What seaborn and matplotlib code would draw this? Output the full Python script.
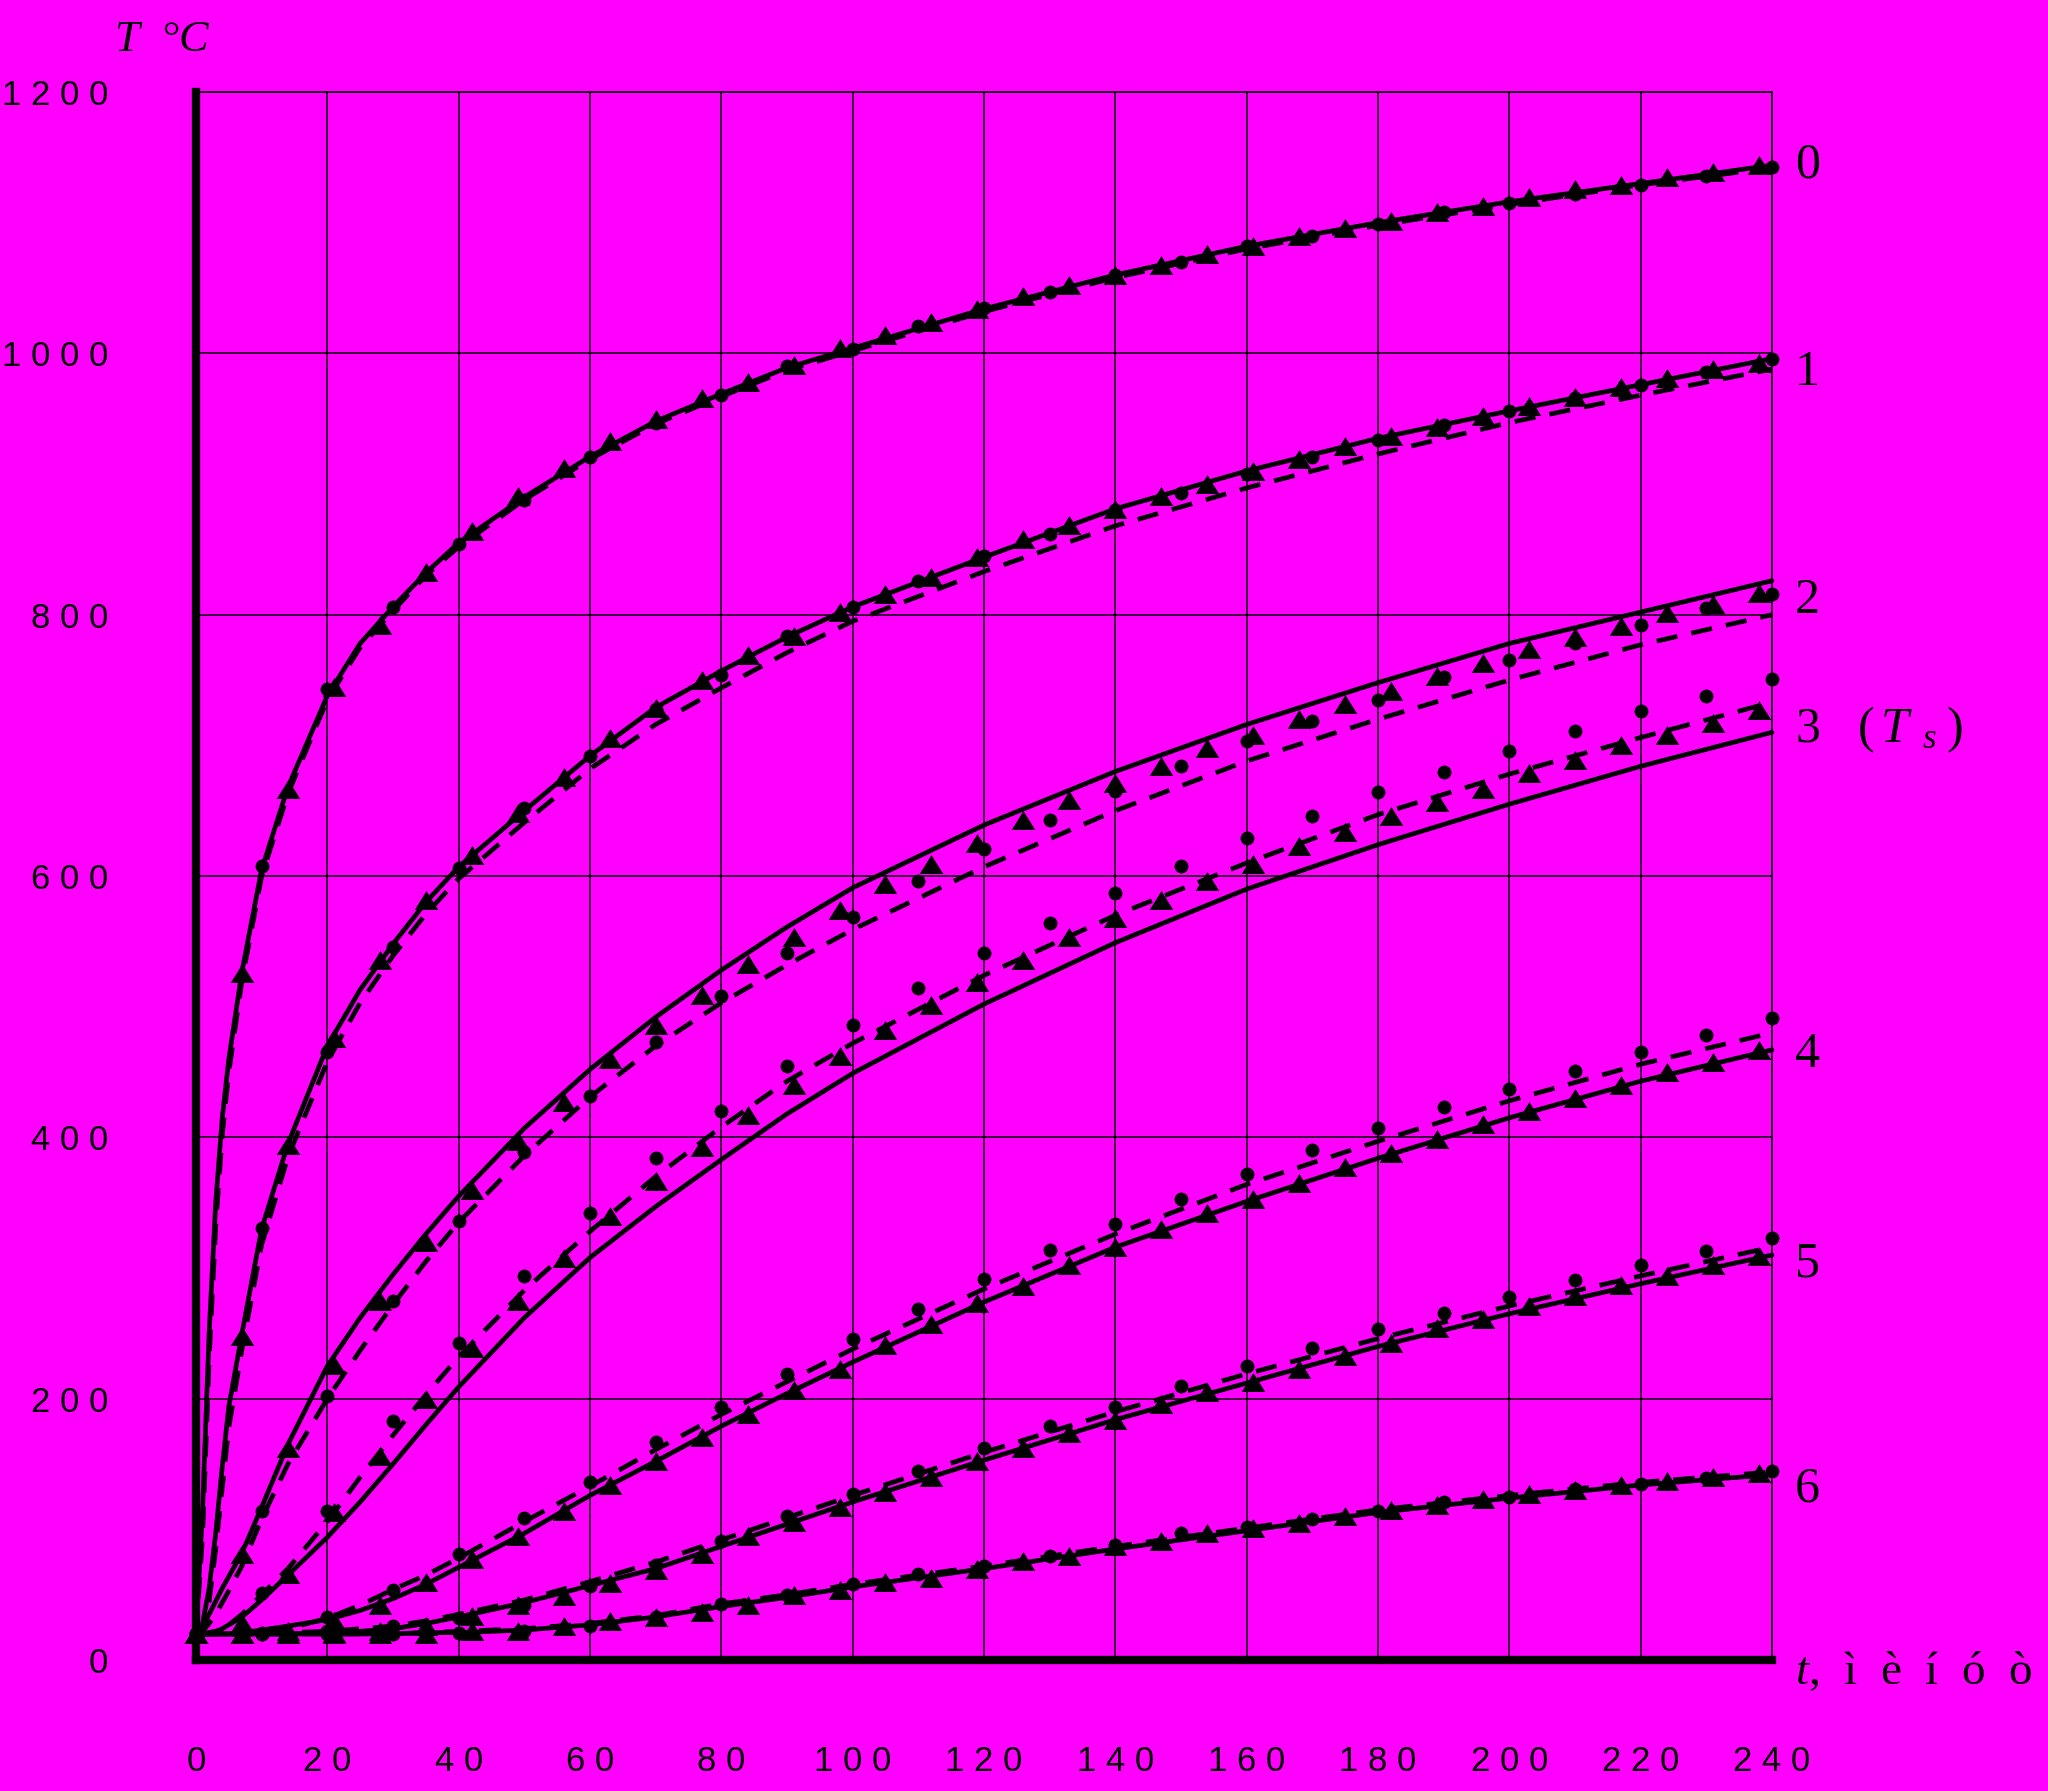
import numpy as np
import matplotlib
matplotlib.use("Agg")
import matplotlib.pyplot as plt
import seaborn as sns
from matplotlib import font_manager

# =========================================================
# 1. 데이터
# =========================================================
# 선(실선/점선)을 그릴 시간 격자, 분
T_LINE = [0, 1, 2, 3, 4, 5, 7, 10, 14, 20, 25, 30, 35, 40, 50, 60, 70, 80, 90,
          100, 120, 140, 160, 180, 200, 220, 240]
# 원형 마커는 10분마다, 삼각형 마커는 7분마다
T_DOT = list(range(0, 241, 10))
T_TRI = list(range(0, 239, 7))

solid_0 = [20, 115, 250, 350, 415, 460, 527, 605, 668, 738, 778, 806, 832, 855, 890,
           921, 948, 969, 989, 1004, 1034, 1060, 1082, 1100, 1116, 1130, 1144]
dash_0 = [20, 95, 230, 332, 402, 450, 520, 600, 663, 735, 775, 803, 830, 852, 888,
          919, 946, 967, 987, 1002, 1032, 1058, 1080, 1098, 1114, 1129, 1142]
solid_1 = [20, 28, 55, 97, 148, 194, 250, 330, 395, 470, 513, 548, 580, 607, 650,
           692, 729, 757, 783, 806, 844, 881, 910, 935, 956, 976, 996]
dash_1 = [20, 24, 45, 85, 132, 178, 238, 318, 385, 458, 503, 539, 571, 598, 641,
          682, 716, 744, 771, 795, 833, 868, 897, 923, 947, 968, 988]
solid_2 = [20, 26, 35, 45, 55, 64, 82, 117, 165, 225, 262, 295, 326, 355, 407,
           452, 492, 528, 561, 591, 639, 680, 716, 748, 778, 802, 826]
dash_2 = [20, 22, 28, 35, 44, 53, 72, 108, 150, 200, 237, 272, 305, 335, 386,
          431, 470, 503, 532, 559, 607, 650, 688, 720, 750, 777, 800]
solid_3 = [20, 20, 21, 22, 24, 27, 33, 46, 65, 94, 121, 150, 180, 209, 262,
           308, 347, 383, 418, 449, 502, 549, 590, 624, 655, 684, 710]
dash_3 = [20, 20, 21, 22, 24, 27, 35, 50, 70, 106, 140, 172, 203, 232, 283,
          328, 370, 408, 443, 472, 524, 570, 610, 647, 678, 706, 733]
solid_4 = [20, 20, 20, 20, 20, 20, 21, 23, 26, 31, 38, 47, 58, 71, 97,
           126, 152, 179, 204, 228, 274, 316, 351, 384, 415, 443, 467]
dash_4 = [20, 20, 20, 20, 20, 20, 20, 21, 24, 32, 42, 54, 65, 78, 106,
          133, 161, 188, 213, 238, 284, 326, 364, 397, 428, 456, 480]
solid_5 = [20, 20, 20, 20, 20, 20, 20, 20, 20, 21, 22, 24, 28, 33, 44,
           57, 70, 87, 104, 121, 153, 184, 212, 240, 265, 288, 310]
dash_5 = [20, 20, 20, 20, 20, 20, 20, 20, 21, 22, 24, 26, 30, 35, 46,
          60, 75, 92, 109, 126, 159, 190, 219, 246, 271, 294, 316]
solid_6 = [20, 20, 20, 20, 20, 20, 20, 20, 20, 20, 20, 20, 21, 21, 23,
           27, 33, 41, 48, 56, 70, 85, 99, 113, 124, 134, 142]
dash_6 = [20, 20, 20, 20, 20, 20, 20, 20, 20, 20, 20, 20, 21, 22, 24,
          28, 34, 43, 50, 58, 72, 87, 101, 115, 126, 136, 144]

dot_0 = [20, 608, 743, 806, 854, 888, 921, 947, 968, 990, 1003, 1021, 1035, 1047,
         1060, 1070, 1082, 1090, 1099, 1108, 1115, 1122, 1129, 1136, 1143]
dot_1 = [20, 331, 465, 546, 606, 652, 692, 728, 754, 784, 806, 826, 845, 862,
         880, 893, 908, 921, 934, 945, 956, 966, 976, 986, 996]
dot_2 = [20, 114, 202, 275, 336, 389, 432, 473, 508, 541, 569, 596, 621, 643,
         665, 684, 703, 719, 735, 752, 765, 778, 792, 805, 816]
dot_3 = [20, 51, 114, 183, 243, 294, 342, 384, 420, 455, 486, 514, 541, 564,
         587, 608, 629, 646, 664, 680, 696, 711, 726, 738, 751]
dot_4 = [20, 21, 33, 54, 81, 109, 136, 167, 194, 219, 246, 269, 292, 314,
         334, 353, 372, 390, 407, 423, 437, 451, 465, 478, 491]
dot_5 = [20, 20, 22, 26, 32, 42, 57, 73, 91, 110, 127, 145, 162, 179,
         194, 210, 225, 239, 253, 266, 278, 291, 302, 313, 323]
dot_6 = [20, 20, 20, 20, 21, 22, 26, 33, 43, 50, 58, 66, 72, 80,
         88, 97, 102, 108, 114, 121, 125, 131, 135, 139, 145]

tri_0 = [20, 526, 667, 745, 792, 833, 864, 891, 912, 933, 950, 966, 978, 991, 1004,
         1014, 1024, 1034, 1044, 1052, 1060, 1068, 1076, 1082, 1090, 1096, 1101,
         1108, 1113, 1120, 1126, 1129, 1135, 1139, 1144]
tri_1 = [20, 248, 394, 476, 536, 582, 616, 648, 676, 706, 729, 750, 769, 784, 802,
         816, 829, 844, 858, 869, 881, 891, 900, 910, 919, 929, 937, 944, 952,
         960, 967, 974, 981, 988, 993]
tri_2 = [20, 81, 162, 226, 275, 320, 360, 397, 427, 460, 486, 509, 533, 553, 574,
         594, 609, 625, 643, 658, 671, 684, 698, 708, 720, 732, 742, 753, 763,
         774, 783, 791, 801, 808, 817]
tri_3 = [20, 28, 66, 113, 156, 200, 239, 275, 308, 340, 367, 393, 417, 440, 462,
         482, 501, 519, 536, 553, 568, 582, 596, 609, 623, 634, 646, 657, 667,
         679, 689, 700, 708, 717, 727]
tri_4 = [20, 20, 22, 30, 42, 60, 77, 95, 114, 134, 152, 171, 188, 207, 223,
         241, 257, 273, 286, 302, 316, 330, 342, 353, 365, 377, 388, 399, 410,
         420, 430, 440, 450, 458, 467]
tri_5 = [20, 20, 20, 21, 22, 26, 34, 42, 49, 59, 69, 81, 95, 106, 117,
         129, 140, 152, 162, 174, 184, 196, 205, 213, 223, 233, 243, 254, 261,
         271, 279, 287, 294, 302, 309]
tri_6 = [20, 20, 20, 20, 20, 20, 22, 22, 26, 30, 33, 37, 42, 50, 54,
         60, 63, 70, 76, 80, 87, 91, 97, 101, 105, 110, 115, 119, 123,
         127, 130, 134, 137, 140, 143]

# 축 눈금과 라벨
X_TICKS = list(range(0, 241, 20))
Y_TICKS = list(range(0, 1201, 200))
X_TICK_LABELS = ["0", "2 0", "4 0", "6 0", "8 0", "1 0 0", "1 2 0", "1 4 0",
                 "1 6 0", "1 8 0", "2 0 0", "2 2 0", "2 4 0"]
Y_TICK_LABELS = ["0", "2 0 0", "4 0 0", "6 0 0", "8 0 0", "1 0 0 0", "1 2 0 0"]

# 오른쪽 곡선 번호 (라벨, y 위치)
CURVE_LABELS = ["0", "1", "2", r"3   $(\,T_{\;\;s}\;)$", "4", "5", "6"]
CURVE_LABEL_Y = [1144, 985, 811, 712, 463, 303, 131]

# =========================================================
# 2. 스타일
# =========================================================
BG = "#FF00FF"
INK = "black"
LINE_W = 3.4
DASH = (0, (4.5, 3.0))
DOT_SIZE = 100
TRI_SIZE = 17 ** 2
# 옆으로 넓은 삼각형
TRI_VERTS = np.array([[-1.25, -1.0], [1.25, -1.0], [0.0, 1.0], [-1.25, -1.0]])

sns.set_theme(style="white", rc={
    "figure.facecolor": BG,
    "axes.facecolor": BG,
    "savefig.facecolor": BG,
})

names = {f.name for f in font_manager.fontManager.ttflist}
if "Liberation Sans Narrow" in names:
    TICK_FONT, TICK_SIZE = "Liberation Sans Narrow", 33
elif "Liberation Sans" in names:
    TICK_FONT, TICK_SIZE = "Liberation Sans", 25
else:
    TICK_FONT, TICK_SIZE = "DejaVu Sans", 22
SERIF = "Liberation Serif"

plt.rcParams["font.family"] = [TICK_FONT, "DejaVu Sans"]
plt.rcParams["mathtext.fontset"] = "custom"
plt.rcParams["mathtext.rm"] = SERIF
plt.rcParams["mathtext.it"] = SERIF + ":italic"

# =========================================================
# 3. 그림
# =========================================================
fig = plt.figure(figsize=(20.48, 17.91), dpi=100)
ax = fig.add_axes([0.0957, 0.0731, 0.7695, 0.8755])

curves = [
    (solid_0, dash_0, dot_0, tri_0),
    (solid_1, dash_1, dot_1, tri_1),
    (solid_2, dash_2, dot_2, tri_2),
    (solid_3, dash_3, dot_3, tri_3),
    (solid_4, dash_4, dot_4, tri_4),
    (solid_5, dash_5, dot_5, tri_5),
    (solid_6, dash_6, dot_6, tri_6),
]

for solid, dash, dots, tris in curves:
    sns.lineplot(x=T_LINE, y=solid, ax=ax, color=INK, lw=LINE_W,
                 estimator=None, sort=False, clip_on=False)
    sns.lineplot(x=T_LINE, y=dash, ax=ax, color=INK, lw=LINE_W, linestyle=DASH,
                 estimator=None, sort=False, clip_on=False)
    sns.scatterplot(x=T_DOT, y=dots, ax=ax, color=INK, marker="o", s=DOT_SIZE,
                    linewidth=0, clip_on=False, zorder=3)
    sns.scatterplot(x=T_TRI, y=tris, ax=ax, color=INK, marker=TRI_VERTS, s=TRI_SIZE,
                    linewidth=0, clip_on=False, zorder=3)

ax.set_xlim(0, 240)
ax.set_ylim(0, 1200)
ax.set_xticks(X_TICKS)
ax.set_xticklabels(X_TICK_LABELS)
ax.set_yticks(Y_TICKS)
ax.set_yticklabels(Y_TICK_LABELS)
ax.set_xlabel("")
ax.set_ylabel("")

ax.grid(True, color=INK, lw=1.1)
for side in ["left", "bottom"]:
    ax.spines[side].set_linewidth(6)
    ax.spines[side].set_color(INK)
for side in ["top", "right"]:
    ax.spines[side].set_linewidth(1.1)
    ax.spines[side].set_color(INK)

ax.tick_params(axis="both", direction="out", length=29, width=6, color=INK,
               labelcolor=INK, labelsize=TICK_SIZE)
ax.tick_params(axis="y", pad=34)
ax.tick_params(axis="x", pad=32)

# 곡선 번호
for lab, yv in zip(CURVE_LABELS, CURVE_LABEL_Y):
    ax.text(243.5, yv, lab, family=SERIF, fontsize=36, color=INK,
            ha="left", va="center", clip_on=False)

# 축 이름
fig.text(115 / 2048, 1 - 40 / 1791, "T  °C", family=SERIF, style="italic",
         fontsize=32, color=INK, ha="left", va="center")
ax.text(243.5, -9, r"$t$,  ì  è  í  ó  ò", family=SERIF, fontsize=34, color=INK,
        ha="left", va="center", clip_on=False)

fig.savefig("out.png", dpi=100, facecolor=BG)
